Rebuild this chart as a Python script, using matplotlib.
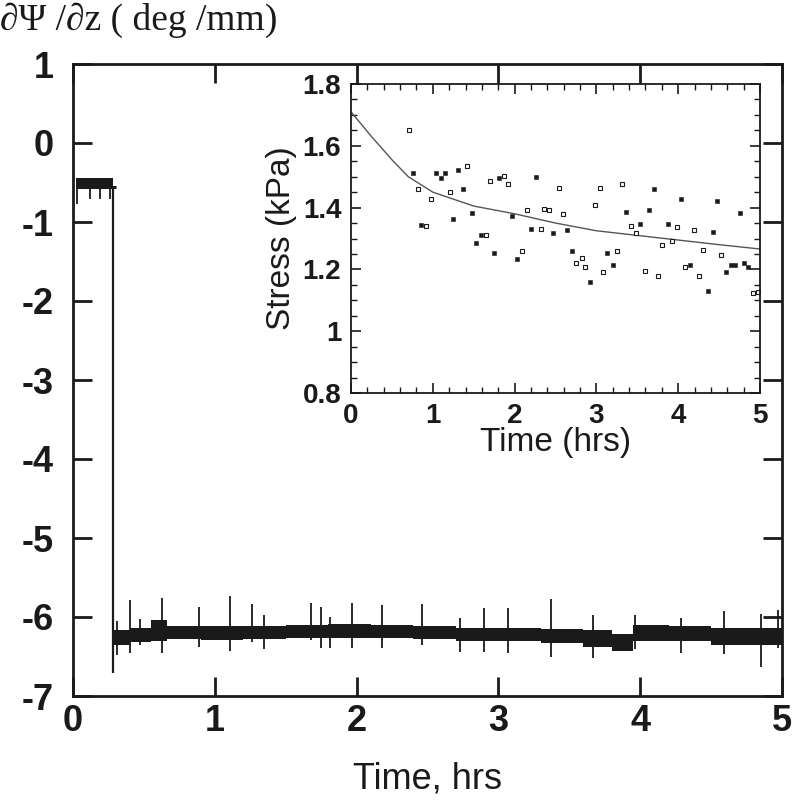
import numpy as np
import matplotlib
matplotlib.use("Agg")
import matplotlib.pyplot as plt
from matplotlib.ticker import MultipleLocator

plt.rcParams['font.family'] = ['Liberation Sans', 'DejaVu Sans']
plt.rcParams['font.weight'] = 'bold'
plt.rcParams['axes.unicode_minus'] = False

# --- main trace: early plateau (hrs, deg/mm)
early_t = [0.02, 0.07, 0.09, 0.13, 0.14, 0.20, 0.21, 0.28]
early_hi = [-0.44, -0.44, -0.44, -0.44, -0.44, -0.44, -0.44, -0.44]
early_lo = [-0.56, -0.56, -0.56, -0.56, -0.56, -0.56, -0.56, -0.56]
early_spike_t = [0.03, 0.12, 0.19, 0.26]
early_spike_lo = [-0.77, -0.71, -0.71, -0.71]
drop_t = 0.28
drop_top = -0.56
drop_bottom = -6.71

# --- main trace: plateau after the drop
band_t = [0.29, 0.40, 0.55, 0.66, 0.90, 1.20, 1.50, 1.80, 2.10, 2.40, 2.70,
          3.00, 3.30, 3.60, 3.80, 3.95, 4.20, 4.50, 4.80, 5.00]
band_hi = [-6.16, -6.14, -6.04, -6.12, -6.12, -6.11, -6.10, -6.09, -6.10, -6.12,
           -6.14, -6.14, -6.15, -6.17, -6.22, -6.10, -6.11, -6.14, -6.14, -6.14]
band_lo = [-6.36, -6.32, -6.30, -6.28, -6.29, -6.28, -6.27, -6.26, -6.27, -6.28,
           -6.30, -6.31, -6.33, -6.38, -6.43, -6.30, -6.31, -6.35, -6.36, -6.36]

spike_t = [0.31, 0.40, 0.47, 0.63, 0.89, 1.11, 1.26, 1.35, 1.68, 1.75, 1.81,
           1.97, 2.18, 2.46, 2.73, 2.90, 3.07, 3.37, 3.67, 3.96, 4.29, 4.59,
           4.85, 4.97]
spike_hi = [-6.05, -5.78, -6.02, -5.76, -5.87, -5.73, -5.84, -5.98, -5.82, -5.87,
            -6.00, -5.82, -5.85, -5.84, -6.01, -5.89, -5.89, -5.77, -5.97, -5.98,
            -6.01, -5.92, -5.96, -5.91]
spike_lo = [-6.48, -6.46, -6.35, -6.46, -6.38, -6.43, -6.32, -6.41, -6.29, -6.39,
            -6.39, -6.39, -6.39, -6.35, -6.44, -6.44, -6.45, -6.51, -6.52, -6.41,
            -6.45, -6.47, -6.63, -6.39]

# --- inset: stress relaxation (hrs, kPa)
fit_t = [0, 0.25, 0.5, 0.7, 1.0, 1.5, 2.0, 2.5, 3.0, 3.5, 4.0, 4.5, 5.0]
fit_s = [1.71, 1.63, 1.555, 1.50, 1.45, 1.405, 1.38, 1.35, 1.325, 1.31, 1.295, 1.28, 1.266]

open_t = [0.71, 0.82, 0.92, 0.98, 1.21, 1.42, 1.65, 1.70, 1.87, 1.92, 2.09, 2.15,
          2.32, 2.36, 2.42, 2.54, 2.59, 2.75, 2.82, 2.86, 2.98, 3.04, 3.08, 3.25,
          3.31, 3.42, 3.48, 3.59, 3.75, 3.80, 3.92, 3.98, 4.08, 4.19, 4.25, 4.30,
          4.52, 4.92, 4.97]
open_s = [1.652, 1.46, 1.339, 1.428, 1.452, 1.536, 1.31, 1.487, 1.503, 1.476, 1.26,
          1.392, 1.332, 1.395, 1.392, 1.464, 1.38, 1.22, 1.236, 1.209, 1.407, 1.464,
          1.192, 1.26, 1.477, 1.34, 1.319, 1.196, 1.18, 1.28, 1.292, 1.336, 1.209,
          1.327, 1.18, 1.263, 1.248, 1.125, 1.128]
dot_t = [0.76, 0.86, 1.035, 1.10, 1.145, 1.25, 1.31, 1.37, 1.48, 1.53, 1.59, 1.75,
         1.81, 1.97, 2.03, 2.20, 2.26, 2.47, 2.64, 2.70, 2.92, 3.13, 3.20, 3.36,
         3.53, 3.64, 3.70, 3.87, 4.03, 4.14, 4.36, 4.42, 4.48, 4.58, 4.64, 4.70,
         4.76, 4.81, 4.85]
dot_s = [1.513, 1.344, 1.512, 1.495, 1.513, 1.362, 1.521, 1.459, 1.382, 1.285, 1.312,
         1.254, 1.495, 1.374, 1.234, 1.332, 1.50, 1.317, 1.327, 1.26, 1.158, 1.253,
         1.214, 1.386, 1.347, 1.392, 1.459, 1.347, 1.427, 1.214, 1.131, 1.322, 1.421,
         1.192, 1.214, 1.214, 1.382, 1.222, 1.209]

ink = '#1a1a1a'

fig = plt.figure(figsize=(7.95, 8.0), dpi=100)
ax = fig.add_axes([73 / 795, 1 - 696 / 800, 709 / 795, 632 / 800])

# early plateau
ax.fill_between(early_t, early_lo, early_hi, color=ink, lw=0)
ax.hlines(-0.56, 0.02, 0.30, color=ink, lw=2.2)
ax.vlines(early_spike_t, early_spike_lo, -0.5, color=ink, lw=1.3)
ax.vlines(drop_t, drop_bottom, drop_top, color=ink, lw=1.6)

# plateau after drop
ax.fill_between(band_t, band_lo, band_hi, step='post', color=ink, lw=0)
ax.vlines(spike_t, spike_lo, spike_hi, color=ink, lw=1.3)

ax.set_xlim(0, 5)
ax.set_ylim(-7, 1)
ax.xaxis.set_major_locator(MultipleLocator(1))
ax.yaxis.set_major_locator(MultipleLocator(1))
ax.tick_params(direction='in', length=14, width=2, top=True, right=True,
               labelsize=26, color=ink, labelcolor=ink)
ax.tick_params(axis='y', pad=14)
ax.tick_params(axis='x', pad=6)
for s in ax.spines.values():
    s.set_linewidth(2)
    s.set_color(ink)
ax.set_xlabel('Time, hrs', fontsize=26, labelpad=16, color=ink)

fig.text(0.0, 1 - 30 / 800, '\u2202\u03a8 /\u2202z ( deg /mm)', fontsize=27, weight='normal',
         family=['Liberation Serif', 'DejaVu Serif'], va='baseline', ha='left', color=ink)

# inset
ins = fig.add_axes([351 / 795, 1 - 393 / 800, 409 / 795, 309 / 800])
ins.plot(fit_t, fit_s, color='#555555', lw=1.0)
ins.plot(open_t, open_s, ls='none', marker='s', ms=3.2, mfc='white', mec=ink, mew=0.8)
ins.plot(dot_t, dot_s, ls='none', marker='s', ms=2.4, mfc=ink, mec=ink, mew=0.4)
ins.set_xlim(0, 5)
ins.set_ylim(0.8, 1.8)
ins.xaxis.set_major_locator(MultipleLocator(1))
ins.xaxis.set_minor_locator(MultipleLocator(0.2))
ins.yaxis.set_major_locator(MultipleLocator(0.2))
ins.yaxis.set_minor_locator(MultipleLocator(0.05))
ins.yaxis.set_major_formatter(plt.FuncFormatter(lambda v, p: f'{v:g}'))
ins.tick_params(which='both', direction='in', top=True, right=True, color=ink,
                labelcolor=ink, labelsize=20)
ins.tick_params(which='major', length=7, width=1.2)
ins.tick_params(which='minor', length=4, width=1.0)
ins.tick_params(axis='y', pad=7)
ins.tick_params(axis='x', pad=7)
for s in ins.spines.values():
    s.set_linewidth(1.3)
    s.set_color(ink)
ins.set_xlabel('Time (hrs)', fontsize=24, labelpad=-1, color=ink)
ins.set_ylabel('Stress (kPa)', fontsize=24, labelpad=4, color=ink)

fig.savefig('out.png', dpi=100)
